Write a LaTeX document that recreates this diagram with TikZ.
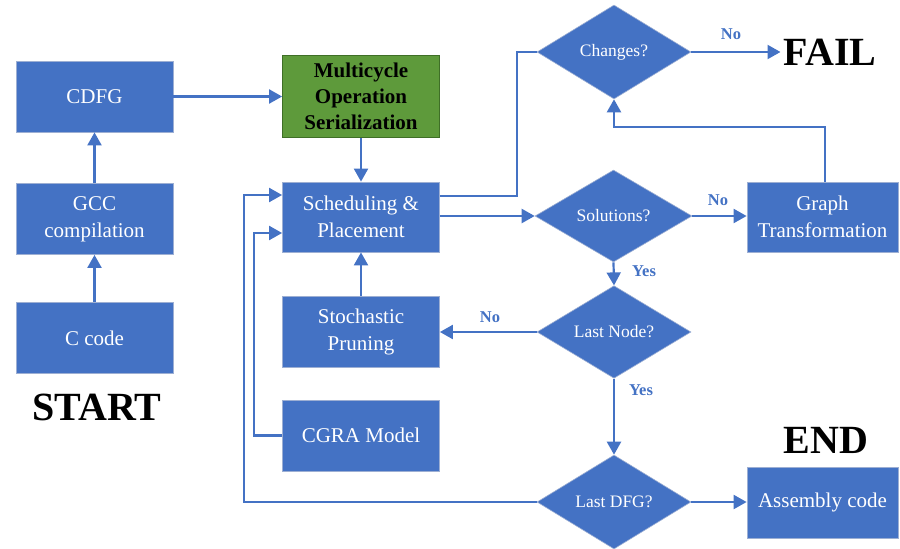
\documentclass[tikz,border=0pt]{standalone}
\usepackage{fontspec}
\setmainfont{Liberation Serif}
\usetikzlibrary{shapes.geometric,arrows.meta}
\definecolor{ablue}{HTML}{4472C4}
\definecolor{aedge}{HTML}{9DAFD3}
\definecolor{agreen}{HTML}{5E9A3B}
\definecolor{agreenedge}{HTML}{3F6F27}
\tikzset{
  procbox/.style={rectangle, fill=ablue, draw=aedge, line width=0.8pt,
    minimum width=157pt, minimum height=71pt, inner sep=0pt, text=white,
    align=center, font=\fontsize{21}{27}\selectfont},
  decision/.style={diamond, fill=ablue, draw=aedge, line width=0.6pt,
    minimum width=154pt, minimum height=93pt, inner sep=0pt, text=white,
    font=\fontsize{17.5}{21}\selectfont},
  flow/.style={draw=ablue, line width=2.2pt},
  tip/.style={-{Triangle[length=13pt,width=14pt]}},
  answer/.style={text=ablue, font=\fontsize{16.5}{20}\selectfont\bfseries},
  bigword/.style={text=black, inner sep=3pt, font=\fontsize{40}{44}\selectfont\bfseries}
}
\begin{document}
\begin{tikzpicture}[x=1pt,y=-1pt]
\useasboundingbox (0,0) rectangle (900,549);

% left column: front end
\node[procbox] (cdfg) at (94.5,96.5) {CDFG};
\node[procbox] (gcc) at (94.5,219) {GCC\\compilation};
\node[procbox] (ccode) at (94.5,338) {C code};
\node[bigword] (start) at (97,407) {START};

% middle column: mapping stage
\node[procbox, fill=agreen, draw=agreenedge, minimum height=82pt, text=black,
  font=\fontsize{21}{26}\selectfont\bfseries] (multi) at (361,96.5)
  {Multicycle\\Operation\\Serialization};
\node[procbox, minimum height=70pt] (sched) at (361,217) {Scheduling \&\\Placement};
\node[procbox] (stoch) at (361,331.5) {Stochastic\\Pruning};
\node[procbox] (cgra) at (361,435.5) {CGRA Model};

% decisions
\node[decision, minimum height=94pt] (changes) at (614,52) {Changes?};
\node[decision, minimum width=157pt, minimum height=92pt] (sol) at (613.5,216) {Solutions?};
\node[decision, minimum height=90pt] (lastnode) at (614,332) {Last Node?};
\node[decision, minimum height=94pt] (lastdfg) at (614,502) {Last DFG?};

% right column
\node[bigword] (fail) at (830,52) {FAIL};
\node[procbox, minimum width=151pt, minimum height=70pt] (graph) at (822.5,217) {Graph\\Transformation};
\node[bigword] (endw) at (826,440) {END};
\node[procbox, minimum width=151pt] (asm) at (822.5,502.5) {Assembly code};

% connectors
\draw[flow,tip] (ccode) -- (gcc);
\draw[flow,tip] (gcc) -- (cdfg);
\draw[flow,tip] (cdfg) -- (multi);
\draw[flow,tip] (multi) -- (sched);
\draw[flow,tip] (stoch) -- (sched);
\draw[flow] ([yshift=21pt]sched.east) -- (517,196) |- (changes.west);
\draw[flow,tip] (sched.east |- sol.west) -- (sol.west);
\draw[flow,tip] (changes.east) -- (fail.west);
\draw[flow,tip] (sol.east) -- (graph.west |- sol.east);
\draw[flow,tip] ([xshift=2.5pt]graph.north) -- (825,127) -| (changes.south);
\draw[flow,tip] (sol.south) -- (lastnode.north);
\draw[flow,tip] (lastnode.west) -- (stoch.east |- lastnode.west);
\draw[flow,tip] (lastnode.south) -- (lastdfg.north);
\draw[flow,tip] (lastdfg.east) -- (asm.west |- lastdfg.east);
\draw[flow,tip] (lastdfg.west) -| (244,195) -- ([yshift=22pt]sched.west);
\draw[flow,tip] (cgra.west) -| (254,233) -- ([yshift=-16pt]sched.west);

% branch labels
\node[answer] (noA) at (731,34) {No};
\node[answer] (noB) at (718,200) {No};
\node[answer] (yesA) at (644,271) {Yes};
\node[answer] (noC) at (490,317) {No};
\node[answer] (yesB) at (641,390) {Yes};
\end{tikzpicture}
\end{document}
